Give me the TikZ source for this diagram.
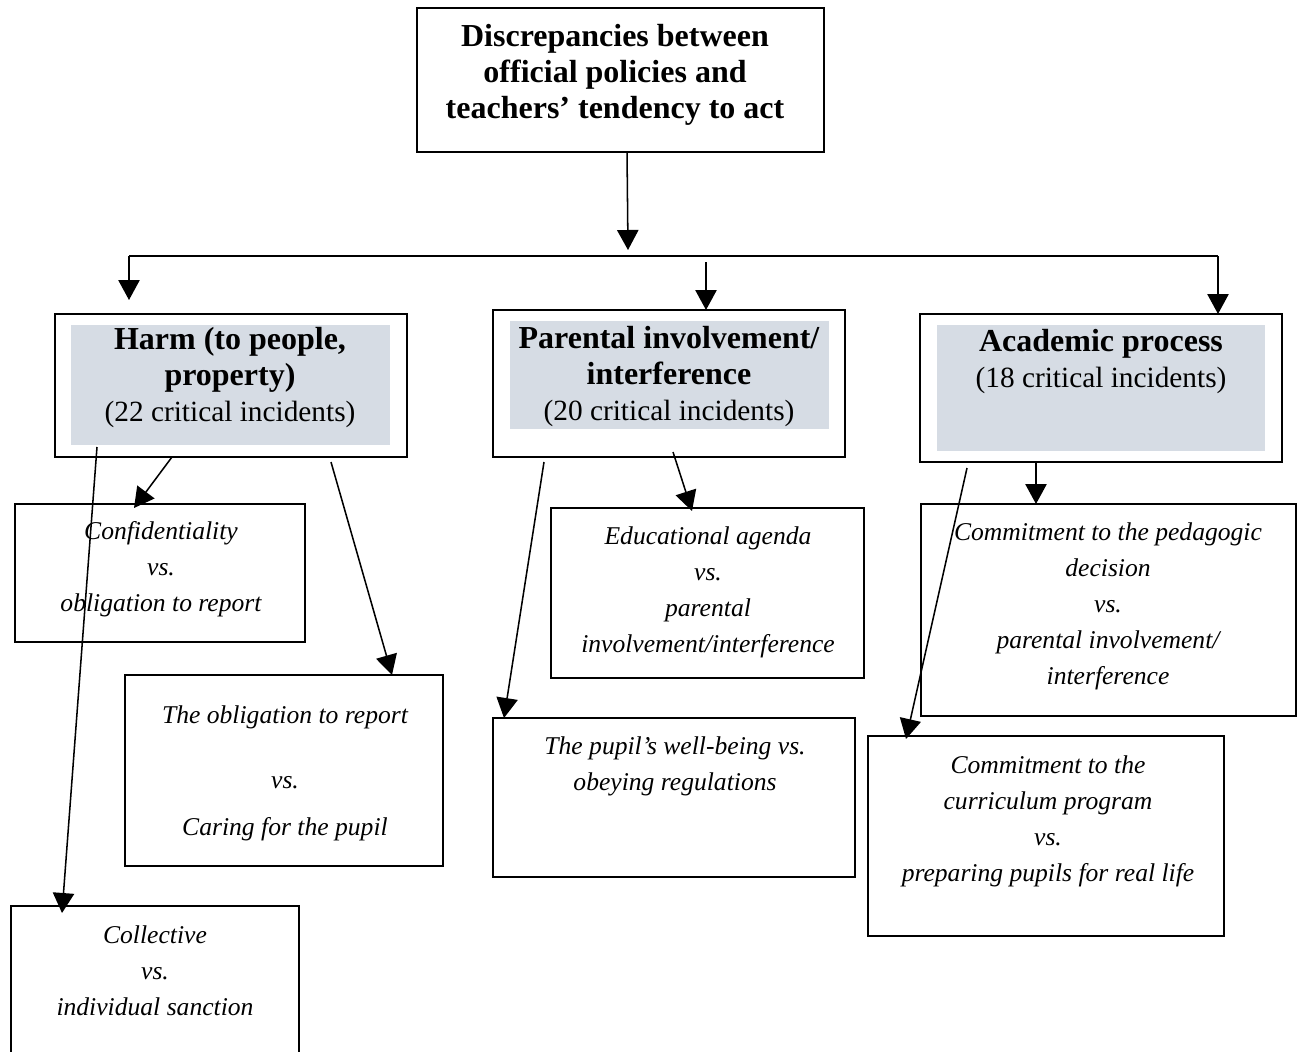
\documentclass[tikz,border=0pt]{standalone}
\usepackage{fontspec}
\setmainfont{Liberation Serif}
\usetikzlibrary{arrows.meta,fit}
\definecolor{headgrey}{RGB}{214,220,228}
\newcommand{\hbf}[1]{{\fontsize{24pt}{27pt}\selectfont\bfseries #1}}
\tikzset{
  box/.style={draw=black, line width=1.3pt, inner sep=0pt, outer sep=0pt},
  greyfill/.style={fill=headgrey, draw=none, inner sep=0pt, outer sep=0pt},
  txt/.style={align=center, inner sep=0pt, font=\fontsize{22pt}{27pt}\selectfont},
  itxt/.style={align=center, inner sep=0pt, font=\fontsize{19.2pt}{27pt}\selectfont\itshape},
  arr/.style={line width=1.15pt, -{Triangle[length=15pt,width=16pt]}},
  bus/.style={line width=1.15pt}
}
\begin{document}
\begin{tikzpicture}[x=0.75pt,y=-0.75pt]
\useasboundingbox (0,0) rectangle (1302,1052);
\clip (0,0) rectangle (1302,1052);
\fill[white] (0,0) rectangle (1302,1052);

% boxes
\node[box, fit={(417,8) (824,152)}] (top) {};
\node[box, fit={(55,314) (407,457)}] (harm) {};
\node[greyfill, fit={(71,325) (390,445)}] (harmg) {};
\node[box, fit={(493,310) (845,457)}] (par) {};
\node[greyfill, fit={(510,321) (829,429)}] (parg) {};
\node[box, fit={(920,314) (1282,462)}] (acad) {};
\node[greyfill, fit={(937,325) (1265,451)}] (acadg) {};
\node[box, fit={(15,504) (305,642)}] (conf) {};
\node[box, fit={(125,675) (443,866)}] (oblig) {};
\node[box, fit={(11,906) (299,1075)}] (coll) {};
\node[box, fit={(551,508) (864,678)}] (educ) {};
\node[box, fit={(493,718) (855,877)}] (pupil) {};
\node[box, fit={(921,504) (1296,716)}] (pedag) {};
\node[box, fit={(868,736) (1224,936)}] (curr) {};

% texts
\node[align=center, inner sep=0pt, font=\fontsize{24pt}{27pt}\selectfont\bfseries] (toptxt) at (615,75) {Discrepancies between\\official policies and\\teachers’ tendency to act};
\node[txt] (harmtxt) at (230,378) {\hbf{Harm (to people,}\\\hbf{property)}\\(22 critical incidents)};
\node[txt] (partxt) at (669,377) {\hbf{Parental involvement/}\\\hbf{interference}\\(20 critical incidents)};
\node[txt] (acadtxt) at (1101,362) {\hbf{Academic process}\\(18 critical incidents)};
\node[itxt] (conftxt) at (161,569) {Confidentiality\\vs.\\obligation to report};
\node[itxt] (obligtxt) at (285,773) {The obligation to report\\[22pt]vs.\\[8pt]Caring for the pupil};
\node[itxt] (colltxt) at (155,971) {Collective\\vs.\\individual sanction};
\node[itxt] (eductxt) at (708,592) {Educational agenda\\vs.\\parental\\involvement/interference};
\node[itxt] (pupiltxt) at (675,766) {The pupil’s well-being vs.\\obeying regulations};
\node[itxt] (pedagtxt) at (1108,606) {Commitment to the pedagogic\\decision\\vs.\\parental involvement/\\interference};
\node[itxt] (currtxt) at (1048,821) {Commitment to the\\curriculum program\\vs.\\preparing pupils for real life};

% connector coordinates
\coordinate (topout) at (627,152);
\coordinate (busmid) at (628,250);
\coordinate (busL) at (129,256);
\coordinate (busR) at (1218,256);
\coordinate (harmin) at (129,300);
\coordinate (acadin) at (1218,314);
\coordinate (parfrom) at (706,262);
\coordinate (parin) at (706,310);

\draw[arr] (topout) -- (busmid);
\draw[bus] (busL) -- (busR);
\draw[arr] (busL) -- (harmin);
\draw[arr] (busR) -- (acadin);
\draw[arr] (parfrom) -- (parin);

% harm branches
\coordinate (h1) at (97,447);
\coordinate (h1e) at (62,913);
\coordinate (h2) at (172,457);
\coordinate (h2e) at (134,508);
\coordinate (h3) at (331,462);
\coordinate (h3e) at (392,675);
\draw[arr] (h1) -- (h1e);
\draw[arr] (h2) -- (h2e);
\draw[arr] (h3) -- (h3e);

% parental branches
\coordinate (p1) at (673,452);
\coordinate (p1e) at (692,511);
\coordinate (p2) at (544,462);
\coordinate (p2e) at (504,718);
\draw[arr] (p1) -- (p1e);
\draw[arr] (p2) -- (p2e);

% academic branches
\coordinate (a1) at (1036,462);
\coordinate (a1e) at (1036,504);
\coordinate (a2) at (967,468);
\coordinate (a2e) at (906,739);
\draw[arr] (a1) -- (a1e);
\draw[arr] (a2) -- (a2e);
\end{tikzpicture}
\end{document}
